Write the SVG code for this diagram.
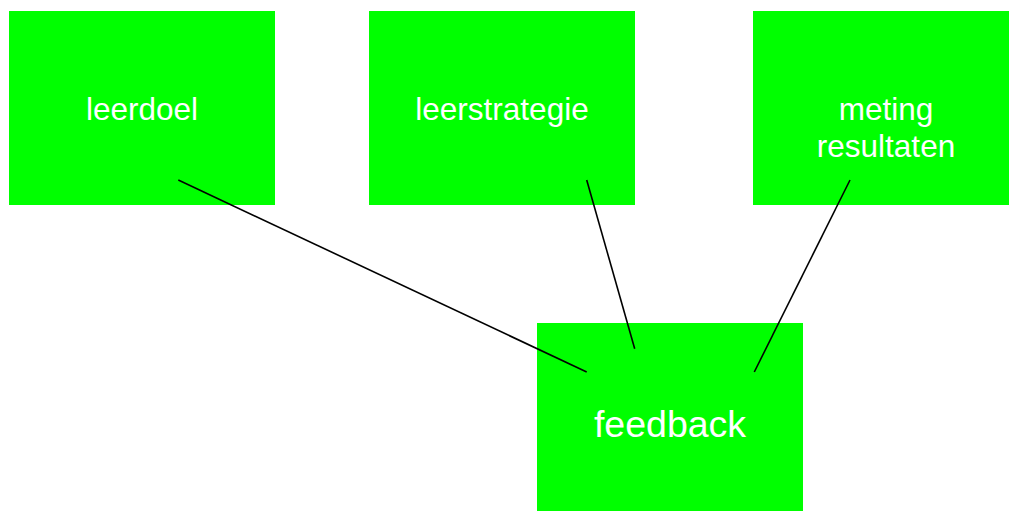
<svg xmlns="http://www.w3.org/2000/svg" width="1009" height="511" viewBox="0 0 1009 511">
  <style>
    .box { fill: #00ff00; }
    .lbl { fill: #ffffff; font-family: "Liberation Sans", Arial, sans-serif; text-anchor: middle; }
    .edge { stroke: #000000; stroke-width: 1.6; fill: none; }
  </style>
  <rect width="1009" height="511" fill="#ffffff"/>
  <g id="node-leerdoel">
    <rect class="box" x="9" y="11" width="266" height="194"/>
    <text class="lbl" x="142" y="120" font-size="31.5">leerdoel</text>
  </g>
  <g id="node-leerstrategie">
    <rect class="box" x="369" y="11" width="266" height="194"/>
    <text class="lbl" x="502" y="120" font-size="31.5">leerstrategie</text>
  </g>
  <g id="node-meting">
    <rect class="box" x="753" y="11" width="266" height="194"/>
    <text class="lbl" x="886" y="120" font-size="31.5">meting</text>
    <text class="lbl" x="886" y="156.5" font-size="31.5">resultaten</text>
  </g>
  <g id="node-feedback">
    <rect class="box" x="537" y="323" width="266" height="194"/>
    <text class="lbl" x="670" y="437" font-size="37.5">feedback</text>
  </g>
  <g id="connectors">
    <line class="edge" x1="178.3" y1="180" x2="586.7" y2="372"/>
    <line class="edge" x1="586.7" y1="180" x2="634.7" y2="348.7"/>
    <line class="edge" x1="850" y1="180" x2="754.3" y2="372"/>
  </g>
</svg>
